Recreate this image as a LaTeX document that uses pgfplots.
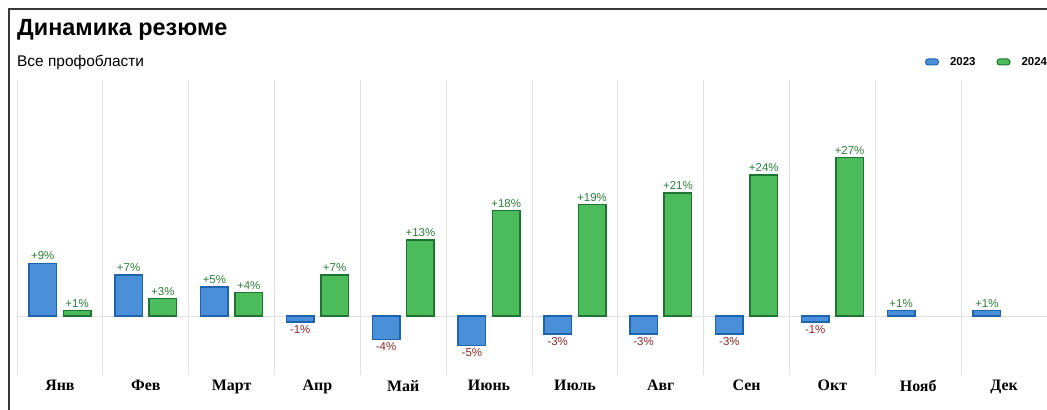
\documentclass[border=0pt]{standalone}
\usepackage{pgfplots}
\pgfplotsset{compat=1.18}
\usepackage{fontspec}
\setmainfont{Liberation Sans}
\newfontfamily\tnr{Liberation Serif}

\definecolor{bluefill}{HTML}{4A90D9}
\definecolor{blueedge}{HTML}{1F62AD}
\definecolor{greenfill}{HTML}{4CBB5C}
\definecolor{greenedge}{HTML}{1F7333}
\definecolor{poslab}{HTML}{2E7D3A}
\definecolor{neglab}{HTML}{8B2A2A}
\definecolor{gridc}{HTML}{E2E2E2}
\definecolor{framec}{HTML}{3A3A3A}

\begin{document}
\begin{tikzpicture}
\useasboundingbox (0,0) rectangle (1047bp,410bp);
% frame on top and left
\draw[framec, line width=1.5bp] (9bp,0) -- (9bp,401bp) -- (1047bp,401bp);
\node[anchor=base west, inner sep=0pt, font=\fontsize{23.5}{23.5}\selectfont\bfseries] at (17bp,374bp) {Динамика резюме};
\node[anchor=base west, inner sep=0pt, font=\fontsize{15.5}{15.5}\selectfont] at (17bp,343bp) {Все профобласти};

\begin{axis}[
    at={(17bp,35bp)}, anchor=south west,
    scale only axis,
    width=1030bp, height=295bp,
    xmin=-0.5, xmax=11.5,
    ymin=-10, ymax=40.2,
    axis line style={draw=none},
    ytick=\empty,
    xtick={0,...,11},
    xticklabels={Янв,Фев,Март,Апр,Май,Июнь,Июль,Авг,Сен,Окт,Нояб,Дек},
    xticklabel style={font=\tnr\bfseries\fontsize{16}{16}\selectfont, inner sep=0pt, anchor=north, yshift=-5bp},
    major tick length=0pt, minor tick length=0pt,
    minor xtick={-0.5,0.5,...,11.5},
    xminorgrids,
    minor x grid style={gridc, line width=0.8bp},
    extra y ticks={0}, extra y tick labels={},
    extra y tick style={grid=major, major grid style={gridc, line width=0.8bp}},
    ybar, bar width=0.32,
    /pgf/number format/assume math mode=true,
    nodes near coords={\pgfmathprintnumber[print sign]{\pgfplotspointmeta}\%},
    nodes near coords style={font=\fontsize{11.5}{11.5}\selectfont, inner sep=2.5bp},
    legend columns=2,
    legend image code/.code={\draw[#1, rounded corners=2.8bp, line width=1bp] (0bp,-3bp) rectangle (13bp,3bp);},
    legend style={at={(1,1)}, anchor=east, yshift=18bp, xshift=0bp,
        draw=none, fill=none, inner sep=0pt, outer sep=0pt,
        font=\fontsize{11.5}{11.5}\selectfont\bfseries,
        nodes={inner sep=0pt},
        /tikz/every odd column/.append style={column sep=11bp},
        /tikz/every even column/.append style={column sep=21bp}},
]
% 2023, positive
\addplot[bar shift=-0.2, fill=bluefill, draw=blueedge, line width=1.5bp,
    nodes near coords style={color=poslab}]
    coordinates {(0,9) (1,7) (2,5) (10,1) (11,1)};
\addlegendentry{2023}
% 2024
\addplot[bar shift=0.2, fill=greenfill, draw=greenedge, line width=1.5bp,
    nodes near coords style={color=poslab}]
    coordinates {(0,1) (1,3) (2,4) (3,7) (4,13) (5,18) (6,19) (7,21) (8,24) (9,27)};
\addlegendentry{2024}
% 2023, negative
\addplot[forget plot, bar shift=-0.2, fill=bluefill, draw=blueedge, line width=1.5bp,
    nodes near coords style={color=neglab}]
    coordinates {(3,-1) (4,-4) (5,-5) (6,-3) (7,-3) (8,-3) (9,-1)};
\end{axis}
\end{tikzpicture}
\end{document}
